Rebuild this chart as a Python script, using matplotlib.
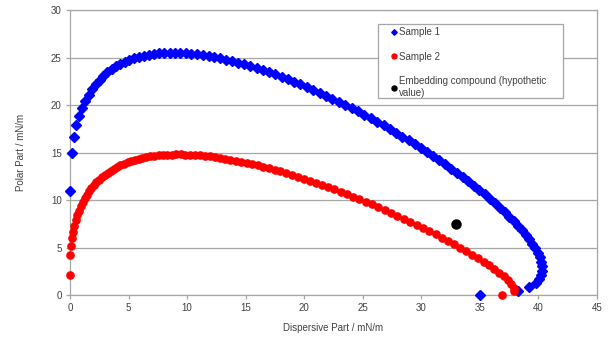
import matplotlib
matplotlib.use("Agg")
import matplotlib.pyplot as plt
from matplotlib.patches import Rectangle

plt.rcParams['font.family'] = ['Liberation Sans', 'DejaVu Sans']

# values
sample1_x = [35.00, 38.28, 39.21, 39.75, 40.06, 40.23, 40.31, 40.30, 40.23, 40.10,
             39.94, 39.73, 39.49, 39.22, 38.92, 38.60, 38.26, 37.90, 37.52, 37.13,
             36.72, 36.29, 35.86, 35.41, 34.96, 34.49, 34.02, 33.54, 33.05, 32.55,
             32.05, 31.54, 31.03, 30.51, 29.98, 29.46, 28.93, 28.39, 27.86, 27.31,
             26.78, 26.23, 25.69, 25.14, 24.60, 24.05, 23.50, 22.95, 22.40, 21.86,
             21.31, 20.76, 20.22, 19.68, 19.14, 18.60, 18.06, 17.52, 16.99, 16.46,
             15.93, 15.40, 14.88, 14.37, 13.85, 13.34, 12.83, 12.33, 11.84, 11.34,
             10.86, 10.37, 9.90, 9.42, 8.96, 8.50, 8.04, 7.60, 7.16, 6.72,
             6.30, 5.88, 5.47, 5.07, 4.68, 4.29, 3.92, 3.55, 3.20, 2.85,
             2.52, 2.20, 1.89, 1.59, 1.31, 1.04, 0.79, 0.55, 0.34, 0.15, 0.00]
sample1_y = [0.00, 0.39, 0.80, 1.23, 1.67, 2.12, 2.57, 3.03, 3.50, 3.97,
             4.44, 4.91, 5.38, 5.86, 6.34, 6.81, 7.29, 7.76, 8.24, 8.71,
             9.18, 9.65, 10.11, 10.58, 11.04, 11.50, 11.95, 12.40, 12.85, 13.30,
             13.74, 14.17, 14.60, 15.03, 15.45, 15.86, 16.27, 16.67, 17.07, 17.46,
             17.85, 18.23, 18.60, 18.97, 19.32, 19.68, 20.02, 20.35, 20.68, 21.00,
             21.31, 21.61, 21.91, 22.19, 22.46, 22.73, 22.98, 23.23, 23.46, 23.68,
             23.90, 24.09, 24.28, 24.46, 24.62, 24.78, 24.91, 25.04, 25.15, 25.25,
             25.33, 25.40, 25.44, 25.48, 25.49, 25.49, 25.48, 25.44, 25.38, 25.30,
             25.20, 25.07, 24.93, 24.75, 24.55, 24.32, 24.06, 23.77, 23.44, 23.07,
             22.66, 22.20, 21.68, 21.10, 20.45, 19.71, 18.86, 17.86, 16.63, 14.99, 11.00]

sample2_x = [36.90, 37.92, 37.90, 37.69, 37.40, 37.05, 36.65, 36.23, 35.78, 35.31,
             34.83, 34.34, 33.83, 33.32, 32.80, 32.27, 31.74, 31.21, 30.67, 30.13,
             29.59, 29.04, 28.50, 27.95, 27.41, 26.87, 26.32, 25.78, 25.24, 24.71,
             24.17, 23.64, 23.10, 22.57, 22.05, 21.53, 21.01, 20.49, 19.98, 19.47,
             18.96, 18.46, 17.96, 17.47, 16.98, 16.50, 16.02, 15.55, 15.08, 14.61,
             14.15, 13.70, 13.25, 12.80, 12.37, 11.93, 11.51, 11.09, 10.67, 10.26,
             9.86, 9.46, 9.07, 8.69, 8.31, 7.94, 7.57, 7.21, 6.86, 6.52,
             6.18, 5.85, 5.53, 5.21, 4.91, 4.61, 4.31, 4.03, 3.75, 3.48,
             3.22, 2.97, 2.72, 2.49, 2.26, 2.04, 1.83, 1.63, 1.44, 1.26,
             1.09, 0.92, 0.77, 0.63, 0.50, 0.38, 0.28, 0.18, 0.11, 0.04, 0.00]
sample2_y = [0.00, 0.38, 0.77, 1.17, 1.56, 1.95, 2.34, 2.73, 3.11, 3.49,
             3.87, 4.24, 4.61, 4.98, 5.34, 5.70, 6.05, 6.39, 6.73, 7.07,
             7.40, 7.72, 8.04, 8.35, 8.66, 8.96, 9.25, 9.54, 9.82, 10.09,
             10.36, 10.62, 10.87, 11.12, 11.36, 11.59, 11.82, 12.03, 12.24, 12.45,
             12.64, 12.83, 13.01, 13.18, 13.34, 13.50, 13.65, 13.79, 13.92, 14.04,
             14.15, 14.26, 14.35, 14.44, 14.52, 14.59, 14.65, 14.70, 14.74, 14.77,
             14.79, 14.80, 14.80, 14.79, 14.77, 14.74, 14.70, 14.65, 14.59, 14.51,
             14.43, 14.33, 14.22, 14.10, 13.96, 13.82, 13.66, 13.49, 13.30, 13.10,
             12.88, 12.65, 12.40, 12.14, 11.86, 11.57, 11.25, 10.91, 10.56, 10.18,
             9.78, 9.35, 8.89, 8.40, 7.87, 7.29, 6.67, 5.96, 5.16, 4.16, 2.10]

compound_x = [33.0]
compound_y = [7.5]

labels = ["Sample 1", "Sample 2", "Embedding compound (hypothetic\nvalue)"]
x_ticks = [0, 5, 10, 15, 20, 25, 30, 35, 40, 45]
y_ticks = [0, 5, 10, 15, 20, 25, 30]

text_col = "#404040"
grid_col = "#a6a6a6"
W, H = 612, 338

fig = plt.figure(figsize=(6.12, 3.38), dpi=100)
ax = fig.add_axes([0.1144, 0.1272, 0.8611, 0.8432])

ax.plot(sample1_x, sample1_y, linestyle="none", marker="D", markersize=4.6,
        color="#0000ff", label=labels[0], clip_on=False, zorder=3)
ax.plot(sample2_x, sample2_y, linestyle="none", marker="o", markersize=5.2,
        color="#ff0000", label=labels[1], clip_on=False, zorder=3)
ax.plot(compound_x, compound_y, linestyle="none", marker="o", markersize=6.5,
        color="black", label=labels[2], clip_on=False, zorder=4)

ax.set_xlim(0, 45)
ax.set_ylim(0, 30)
ax.set_xticks(x_ticks)
ax.set_yticks(y_ticks)
ax.yaxis.grid(True, color=grid_col, linewidth=0.9)
ax.set_axisbelow(True)
for s in ax.spines.values():
    s.set_color(grid_col)
    s.set_linewidth(0.9)
ax.tick_params(axis="both", labelsize=7, colors=text_col, length=3,
               color=grid_col, width=0.9, pad=3)

ax.set_xlabel("Dispersive Part / mN/m", fontsize=7, color=text_col, labelpad=7)
ax.set_ylabel("Polar Part / mN/m", fontsize=7, color=text_col, labelpad=18)

# legend box drawn separately so the padding matches the original
box = Rectangle((378 / W, 1 - 98 / H), 185 / W, 74 / H,
                transform=fig.transFigure, facecolor="white",
                edgecolor=grid_col, linewidth=0.9, zorder=5, clip_on=False)
ax.add_patch(box)
leg = ax.legend(loc="upper left", bbox_to_anchor=(389 / W, 1 - 25 / H),
                bbox_transform=fig.transFigure, fontsize=7, frameon=False,
                borderpad=0.2, labelspacing=1.5,
                handlelength=0.6, handletextpad=0.25, borderaxespad=0)
leg.set_zorder(6)
handle_sizes = [2.8, 3.6, 3.6]
for h, ms in zip(leg.legend_handles, handle_sizes):
    h.set_markersize(ms)
for t in leg.get_texts():
    t.set_color(text_col)

fig.savefig("out.png", dpi=100)
